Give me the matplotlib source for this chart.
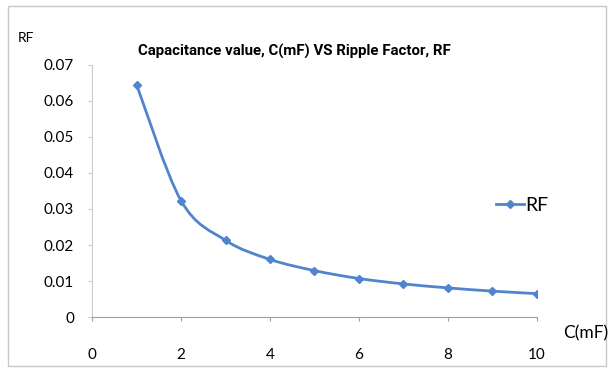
import numpy as np
import matplotlib
matplotlib.use("Agg")
from matplotlib import pyplot as plt
from matplotlib.path import Path
from matplotlib.patches import PathPatch, Rectangle
from matplotlib.lines import Line2D

plt.rcParams['font.family'] = ['Lato', 'DejaVu Sans']

# capacitance in mF and ripple factor
cap = [1, 2, 3, 4, 5, 6, 7, 8, 9, 10]
rf = [0.0645, 0.0323, 0.0213, 0.0160, 0.0129, 0.0107, 0.0092, 0.0081, 0.0072, 0.0065]
x_ticks = [0, 2, 4, 6, 8, 10]
y_ticks = [0, 0.01, 0.02, 0.03, 0.04, 0.05, 0.06, 0.07]

blue = "#4F85CC"
grey = "#a0a0a0"

fig = plt.figure(figsize=(6.10, 3.73), dpi=100)
ax = fig.add_axes([0.151, 0.150, 0.729, 0.676])

# excel style smoothed line: bezier through the points
x = np.array(cap, dtype=float)
y = np.array(rf)
verts = [(x[0], y[0])]
codes = [Path.MOVETO]
t = 1 / 6
for i in range(len(x) - 1):
    x0, y0 = (x[i - 1], y[i - 1]) if i > 0 else (x[i], y[i])
    x3, y3 = (x[i + 2], y[i + 2]) if i + 2 < len(x) else (x[i + 1], y[i + 1])
    c1 = (x[i] + (x[i + 1] - x0) * t, y[i] + (y[i + 1] - y0) * t)
    c2 = (x[i + 1] - (x3 - x[i]) * t, y[i + 1] - (y3 - y[i]) * t)
    verts += [c1, c2, (x[i + 1], y[i + 1])]
    codes += [Path.CURVE4] * 3
ax.add_patch(PathPatch(Path(verts, codes), fill=False, edgecolor=blue, lw=2.0))
ax.plot(cap, rf, ls="none", marker="D", ms=4.5, color=blue)

ax.set_xlim(0, 10)
ax.set_ylim(0, 0.07)
ax.set_xticks(x_ticks)
ax.set_yticks(y_ticks)
ax.set_yticklabels(["0" if v == 0 else f"{v:.2f}" for v in y_ticks])
for s in ["top", "right"]:
    ax.spines[s].set_visible(False)
ax.spines["left"].set_color("#cccccc")
ax.spines["bottom"].set_color(grey)
for s in ["left", "bottom"]:
    ax.spines[s].set_linewidth(0.8)
ax.tick_params(axis="y", length=3, color="#cccccc", labelsize=11, pad=10)
ax.tick_params(axis="x", length=3, color=grey, labelsize=11, pad=19)

fig.text(0.483, 0.863, "Capacitance value, C(mF) VS Ripple Factor, RF",
         ha="center", va="center", fontsize=10.8, fontweight="bold",
         family=["Roboto", "DejaVu Sans"])
fig.text(0.042, 0.898, "RF", ha="center", va="center", fontsize=10)
fig.text(0.96, 0.107, "C(mF)", ha="center", va="center", fontsize=12.5)

handle = Line2D([], [], color=blue, lw=2.0, marker="D", ms=4.5)
fig.legend([handle], ["RF"], loc="center left", bbox_to_anchor=(0.785, 0.45),
           frameon=False, fontsize=14, handlelength=1.4, handletextpad=0.1)

fig.add_artist(Rectangle((0.013, 0.02), 0.98, 0.965, transform=fig.transFigure,
                         fill=False, edgecolor="#c8c8c8", lw=1))

fig.savefig("out.png", dpi=100)
